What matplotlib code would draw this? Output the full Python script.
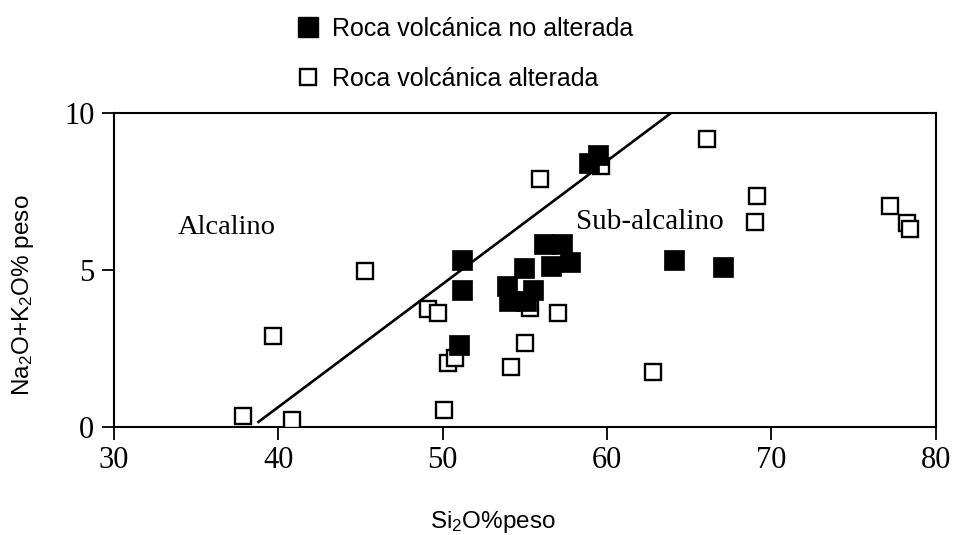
import matplotlib.pyplot as plt
from matplotlib.lines import Line2D

plt.rcParams['font.family'] = 'Liberation Sans'
plt.rcParams['mathtext.fontset'] = 'custom'
plt.rcParams['mathtext.rm'] = 'Liberation Sans'
plt.rcParams['mathtext.default'] = 'regular'

# roca no alterada (SiO2, Na2O+K2O)
sio2_fresca = [51.2, 51.2, 50.97, 58.88, 59.45,
               56.17, 57.26, 57.75, 56.6, 54.96, 53.92, 55.5, 54.04, 55.07,
               64.07, 67.07]
alc_fresca = [5.33, 4.37, 2.62, 8.41, 8.65,
              5.82, 5.82, 5.24, 5.11, 5.05, 4.48, 4.35, 4.0, 4.0,
              5.33, 5.1]

# roca alterada
sio2_alterada = [37.85, 40.83, 39.7, 45.3, 49.1, 49.7, 50.33, 50.76, 50.1,
                 54.15, 55.0, 55.3, 57.0, 55.9, 59.64, 62.8, 66.1, 69.1,
                 69.0, 77.2, 78.25, 78.4]
alc_alterada = [0.34, 0.23, 2.89, 4.97, 3.77, 3.64, 2.03, 2.2, 0.53,
                1.91, 2.66, 3.78, 3.62, 7.91, 8.3, 1.75, 9.18, 7.35,
                6.53, 7.03, 6.48, 6.3]

# límite alcalino / sub-alcalino
limite_x = [38.8, 63.9]
limite_y = [0.16, 10.0]

fig = plt.figure(figsize=(9.56, 5.35), dpi=100)
ax = fig.add_axes([0.119, 0.202, 0.860, 0.587])

ax.plot(limite_x, limite_y, color='black', lw=1.9, zorder=2)
ax.plot(sio2_alterada, alc_alterada, 's', ms=11, mfc='white', mec='black',
        mew=1.7, ls='none', zorder=3)
ax.plot(sio2_fresca, alc_fresca, 's', ms=14, mfc='black', mec='black',
        mew=0.5, ls='none', zorder=4)

ax.set_xlim(30, 80)
ax.set_ylim(0, 10)
ax.set_xticks([30, 40, 50, 60, 70, 80])
ax.set_yticks([0, 5, 10])

for s in ax.spines.values():
    s.set_linewidth(1.5)
ax.tick_params(direction='out', length=9, width=1.3, pad=5)
for lab in ax.get_xticklabels() + ax.get_yticklabels():
    lab.set_fontfamily('Liberation Serif')
    lab.set_fontsize(22)

ax.text(36.85, 6.34, 'Alcalino', family='Liberation Serif', fontsize=20.5,
        ha='center', va='center')
ax.text(62.6, 6.51, 'Sub-alcalino', family='Liberation Serif', fontsize=21,
        ha='center', va='center')

fig.text(493 / 956, 1 - 522 / 535, 'Si$_2$O%peso', fontsize=17.5,
         ha='center', va='center')
fig.text(23 / 956, 1 - 295 / 535, 'Na$_2$O+K$_2$O% peso', fontsize=17.5,
         ha='center', va='center', rotation=90)

handles = [
    Line2D([], [], marker='s', ls='none', ms=14, mfc='black', mec='black'),
    Line2D([], [], marker='s', ls='none', ms=11, mfc='white', mec='black',
           mew=1.7),
]
fig.legend(handles, ['Roca volcánica no alterada', 'Roca volcánica alterada'],
           loc='center left', bbox_to_anchor=(285 / 956, 1 - 54 / 535),
           bbox_transform=fig.transFigure, frameon=False, fontsize=18,
           borderpad=0, handlelength=0.8, handletextpad=0.6, labelspacing=1.05)

fig.savefig('out.png', dpi=100)
